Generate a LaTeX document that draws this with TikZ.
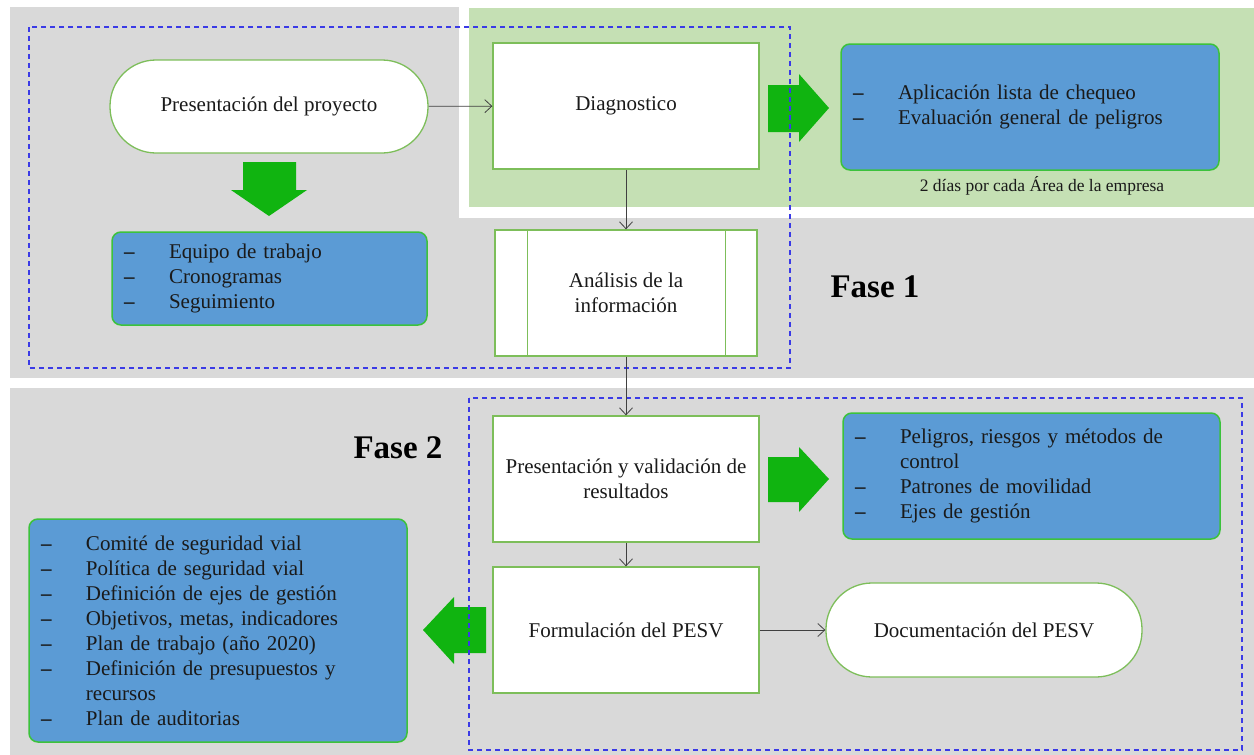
\documentclass[tikz,border=0pt]{standalone}
\usepackage{fontspec}
\setmainfont{Liberation Serif}
\usetikzlibrary{arrows.meta}
\definecolor{bggray}{HTML}{D9D9D9}
\definecolor{greenbg}{HTML}{C5E0B4}
\definecolor{bluefill}{HTML}{5B9BD5}
\definecolor{boxborder}{HTML}{3CC23C}
\definecolor{nodeborder}{HTML}{7DBE5A}
\definecolor{arrowgreen}{HTML}{10B410}
\definecolor{dashblue}{HTML}{3A3AE6}
\definecolor{txt}{HTML}{1A1A1A}
\newcommand{\lstitem}[1]{\makebox[45pt][l]{\textbf{–}}#1}
\newcommand{\lstcont}[1]{\hspace*{45pt}#1}
\begin{document}
\begin{tikzpicture}[x=1pt,y=-1pt,
  font=\fontsize{21}{25}\selectfont, text=txt,
  procbox/.style={draw=nodeborder, line width=1.3pt, fill=white,
    minimum width=266pt, minimum height=126pt, align=center, inner sep=0pt},
  pillbox/.style={draw=nodeborder, line width=1.3pt, fill=white,
    rounded corners=46pt, minimum height=93pt, align=center},
  listbox/.style={draw=boxborder, line width=1.5pt, fill=bluefill,
    rounded corners=9pt, align=left, inner xsep=12pt, inner ysep=0pt},
  conn/.style={draw=black!75, line width=0.8pt, -{Straight Barb[length=7pt,width=13pt]}},
  blockarrow/.style={fill=arrowgreen},
  groupframe/.style={draw=dashblue, line width=1.3pt, dash pattern=on 5pt off 4pt},
  phase/.style={font=\fontsize{33}{36}\selectfont\bfseries, text=black}
]
\useasboundingbox (0,0) rectangle (1254,755);
% backgrounds
\fill[bggray] (10,7) rectangle (1254,378);
\fill[white] (459,0) rectangle (1254,218);
\fill[greenbg] (469,8) rectangle (1254,207);
\fill[bggray] (10,388) rectangle (1254,755);

% nodes
\node[pillbox, minimum width=318pt] (pres) at (269,106.5) {Presentación del proyecto};
\node[procbox] (diag) at (626,106) {Diagnostico};
\node[listbox, minimum width=378pt, minimum height=126pt, text width=354pt] (apl) at (1030,107)
  {\lstitem{Aplicación lista de chequeo}\\ \lstitem{Evaluación general de peligros}};
\node[font=\fontsize{17.5}{19}\selectfont] (dias) at (1042,186) {2 días por cada Área de la empresa};
\node[listbox, minimum width=315pt, minimum height=93pt, text width=291pt] (equipo) at (269.5,278.5)
  {\lstitem{Equipo de trabajo}\\ \lstitem{Cronogramas}\\ \lstitem{Seguimiento}};
\node[procbox, minimum width=262pt] (anal) at (626,293) {Análisis de la\\ información};
\draw[nodeborder, line width=1.3pt] ([xshift=33pt]anal.north west) -- ([xshift=33pt]anal.south west);
\draw[nodeborder, line width=1.3pt] ([xshift=-32pt]anal.north east) -- ([xshift=-32pt]anal.south east);
\node[phase] (fase1) at (875,287) {Fase 1};

\node[procbox] (pyv) at (626,479) {Presentación y validación de\\ resultados};
\node[listbox, minimum width=377pt, minimum height=126pt, text width=353pt] (pel) at (1031.5,476)
  {\lstitem{Peligros, riesgos y métodos de}\\ \lstcont{control}\\ \lstitem{Patrones de movilidad}\\ \lstitem{Ejes de gestión}};
\node[procbox] (form) at (626,630) {Formulación del PESV};
\node[pillbox, minimum width=316pt, minimum height=94pt] (doc) at (984,630) {Documentación del PESV};
\node[listbox, minimum width=378pt, minimum height=223pt, text width=354pt] (plan) at (218,630.5)
  {\lstitem{Comité de seguridad vial}\\ \lstitem{Política de seguridad vial}\\
   \lstitem{Definición de ejes de gestión}\\ \lstitem{Objetivos, metas, indicadores}\\
   \lstitem{Plan de trabajo (año 2020)}\\ \lstitem{Definición de presupuestos y}\\
   \lstcont{recursos}\\ \lstitem{Plan de auditorias}};
\node[phase] (fase2) at (398,448) {Fase 2};

% block arrows
\fill[blockarrow] (768,85) -- (799,85) -- (799,74) -- (829,108) -- (799,142) -- (799,132) -- (768,132) -- cycle;
\fill[blockarrow] (768,457) -- (799,457) -- (799,447) -- (829,479) -- (799,512) -- (799,502) -- (768,502) -- cycle;
\fill[blockarrow] (486,607) -- (454,607) -- (454,597) -- (423,630) -- (454,664) -- (454,653) -- (486,653) -- cycle;
\fill[blockarrow] (243,162) -- (296,162) -- (296,190) -- (307,190) -- (269,216) -- (231,190) -- (243,190) -- cycle;

% group frames
\draw[groupframe] (29,27) rectangle (790,368);
\draw[groupframe] (469,398) rectangle (1242,750);

% connectors
\draw[conn] (pres) -- (diag);
\draw[conn] (diag) -- (anal);
\draw[conn] (anal) -- (pyv);
\draw[conn] (pyv) -- (form);
\draw[conn] (form) -- (doc);
\end{tikzpicture}
\end{document}
